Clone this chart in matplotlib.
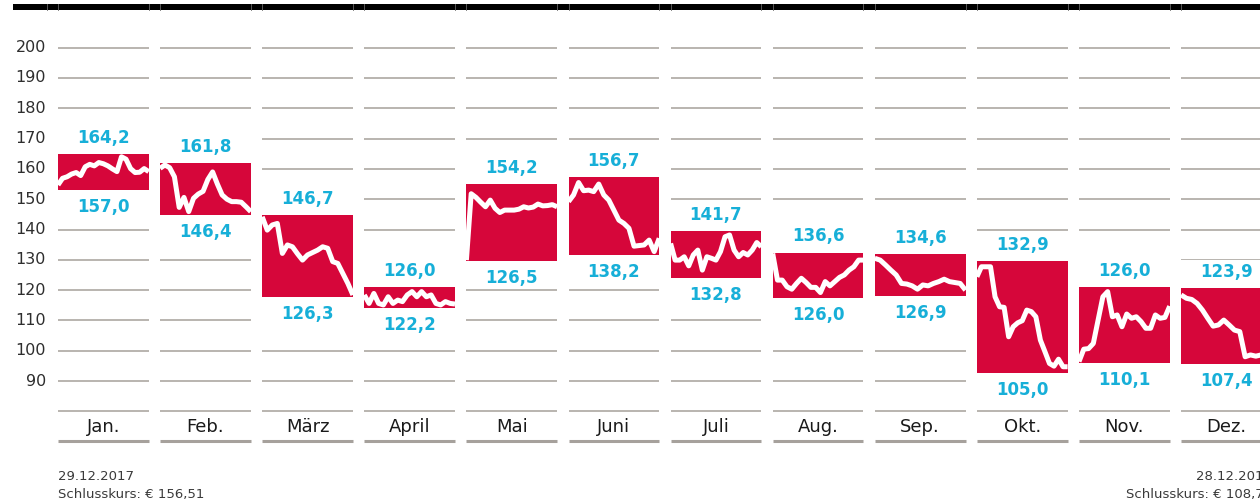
import matplotlib
matplotlib.use("Agg")
import matplotlib.pyplot as plt
from matplotlib.patches import Rectangle
import numpy as np

# Monatsnamen und Hoch/Tief-Beschriftung
months = ["Jan.", "Feb.", "März", "April", "Mai", "Juni",
          "Juli", "Aug.", "Sep.", "Okt.", "Nov.", "Dez."]
high_labels = ["164,2", "161,8", "146,7", "126,0", "154,2", "156,7",
               "141,7", "136,6", "134,6", "132,9", "126,0", "123,9"]
low_labels = ["157,0", "146,4", "126,3", "122,2", "126,5", "138,2",
              "132,8", "126,0", "126,9", "105,0", "110,1", "107,4"]

# rote Kaesten (Skalenwerte)
box_top = [164.9, 161.8, 144.8, 121.1, 155.0, 157.3,
           139.5, 132.4, 131.9, 129.6, 121.0, 120.7]
box_bottom = [153.1, 144.9, 117.8, 114.2, 129.7, 131.7,
              124.1, 117.5, 118.2, 92.7, 96.1, 95.6]

# Tagesverlauf je Monat
jan = [154.7, 156.9, 157.4, 158.3, 158.8, 157.8, 160.7, 161.5, 161.0, 162.1, 161.7,
       161.0, 160.0, 159.1, 164.0, 163.2, 160.1, 158.8, 158.9, 160.1, 159.1]
feb = [160.2, 161.3, 160.4, 157.4, 147.3, 150.6, 145.9, 150.3, 151.7, 152.6,
       156.5, 159.0, 155.0, 151.4, 150.0, 149.2, 149.2, 149.0, 147.5, 145.9]
mar = [144.2, 139.8, 141.5, 142.0, 132.1, 134.9, 134.3, 132.0, 129.9, 131.6,
       132.4, 133.2, 134.3, 133.8, 129.4, 128.8, 125.5, 122.2, 118.4]
apr = [118.4, 115.6, 118.9, 115.6, 115.1, 117.8, 115.6, 116.7, 116.2, 118.4,
       119.5, 117.8, 119.5, 117.8, 118.4, 115.6, 115.1, 116.2, 115.6, 115.4]
mai = [129.9, 151.8, 150.6, 149.0, 147.5, 149.7, 147.0, 145.6, 146.4, 146.4,
       146.4, 146.7, 147.5, 147.1, 147.4, 148.4, 147.8, 147.9, 148.2, 147.5]
jun = [149.2, 151.4, 155.5, 152.8, 153.0, 152.5, 155.0, 151.4, 149.7, 146.4,
       143.1, 142.0, 140.4, 134.5, 134.7, 134.9, 136.5, 132.7, 137.1]
jul = [135.4, 129.9, 129.9, 131.0, 128.0, 131.6, 133.2, 126.6, 131.0, 130.5, 129.9,
       132.7, 137.6, 138.2, 133.2, 131.0, 132.4, 131.6, 133.2, 135.7, 134.3]
aug = [132.1, 123.3, 123.3, 121.1, 120.3, 122.2, 123.9, 122.5, 120.9, 120.9,
       119.2, 122.8, 121.4, 122.8, 124.2, 125.0, 126.6, 127.7, 129.9, 129.9]
sep = [130.5, 129.9, 128.3, 126.6, 125.0, 122.2, 122.0, 121.4, 120.3,
       121.7, 121.4, 122.2, 122.8, 123.6, 122.8, 122.5, 122.2, 120.0]
okt = [124.4, 127.7, 127.7, 127.7, 117.8, 114.5, 114.3, 104.6, 107.9, 109.2, 109.9,
       113.4, 112.9, 111.2, 103.5, 99.7, 95.8, 94.9, 97.2, 94.7, 94.7]
nov = [96.4, 100.5, 100.7, 102.4, 110.1, 117.8, 119.5, 111.2, 111.8, 107.9,
       112.1, 110.7, 111.2, 109.6, 107.4, 107.4, 111.8, 110.7, 111.0, 114.7]
dez = [118.4, 117.3, 116.9, 115.6, 113.4, 110.7, 108.1, 108.5, 110.1,
       108.5, 106.8, 106.3, 98.0, 98.6, 98.2, 98.6, 98.4, 98.5]
series = [jan, feb, mar, apr, mai, jun, jul, aug, sep, okt, nov, dez]

y_ticks = [200, 190, 180, 170, 160, 150, 140, 130, 120, 110, 100, 90]
grid_levels = y_ticks + [80]

RED = "#d6063a"
CYAN = "#17afd8"
GRID = "#b9b4af"
BASE = "#a6a19c"

W, H = 1260, 504
Y0, PX = 47.7, 3.03  # Pixel von 200 und Pixel je Punkt


def vy(px):
    """Pixelhoehe -> Skalenwert"""
    return 200 - (px - Y0) / PX


fig = plt.figure(figsize=(W / 100, H / 100), dpi=100)
ax = fig.add_axes([0, 0, 1, 1])
ax.set_xlim(0, W)
ax.set_ylim(vy(H), vy(0))
ax.axis("off")

x0, pitch, pw = 58, 102.1, 90.7
band = 9.2

# schwarzer Balken oben
ax.add_patch(Rectangle((13, vy(9.5)), W - 13, vy(4) - vy(9.5), fc="black", ec="none", zorder=5))
for xe in [46.7] + [x0 + i * pitch + d for i in range(12) for d in (0, pw)]:
    ax.plot([xe, xe], [vy(9.5), vy(4)], color="#666666", lw=0.6, zorder=6)

for t in y_ticks:
    ax.text(46, t, str(t), ha="right", va="center", fontsize=11.5,
            color="#2e2e2e", family="DejaVu Sans")

for i, m in enumerate(months):
    left = x0 + i * pitch
    right = left + pw
    cx = (left + right) / 2
    for g in grid_levels:
        ax.plot([left, right], [g, g], color=GRID, lw=1.4, solid_capstyle="butt", zorder=1)
    ax.add_patch(Rectangle((left, box_bottom[i] - band), pw,
                           box_top[i] - box_bottom[i] + 2 * band, fc="white", ec="none", zorder=2))
    ax.add_patch(Rectangle((left, box_bottom[i]), pw, box_top[i] - box_bottom[i],
                           fc=RED, ec="none", zorder=3))
    vals = series[i]
    xs = np.linspace(left, right, len(vals))
    ax.plot(xs, vals, color="white", lw=3.6, solid_joinstyle="round",
            solid_capstyle="butt", zorder=4)
    ax.text(cx, box_top[i] + 5.3, high_labels[i], ha="center", va="center",
            fontsize=12, fontweight="bold", color=CYAN, zorder=5)
    ax.text(cx, box_bottom[i] - 5.7, low_labels[i], ha="center", va="center",
            fontsize=12, fontweight="bold", color=CYAN, zorder=5)
    ax.text(cx, vy(427), m, ha="center", va="center", fontsize=13, color="#1a1a1a")
    ax.plot([left, right], [vy(441), vy(441)], color=BASE, lw=2.2,
            solid_capstyle="butt", zorder=1)

# Fusszeile
ax.text(x0, vy(480), "29.12.2017", ha="left", va="baseline", fontsize=9.5, color="#3a3a3a")
ax.text(x0, vy(498), "Schlusskurs: € 156,51", ha="left", va="baseline", fontsize=9.5, color="#3a3a3a")
x_end = x0 + 11 * pitch + pw
ax.text(x_end, vy(480), "28.12.2018", ha="right", va="baseline", fontsize=9.5, color="#3a3a3a")
ax.text(x_end, vy(498), "Schlusskurs: € 108,70", ha="right", va="baseline", fontsize=9.5, color="#3a3a3a")

fig.savefig("out.png", dpi=100)
